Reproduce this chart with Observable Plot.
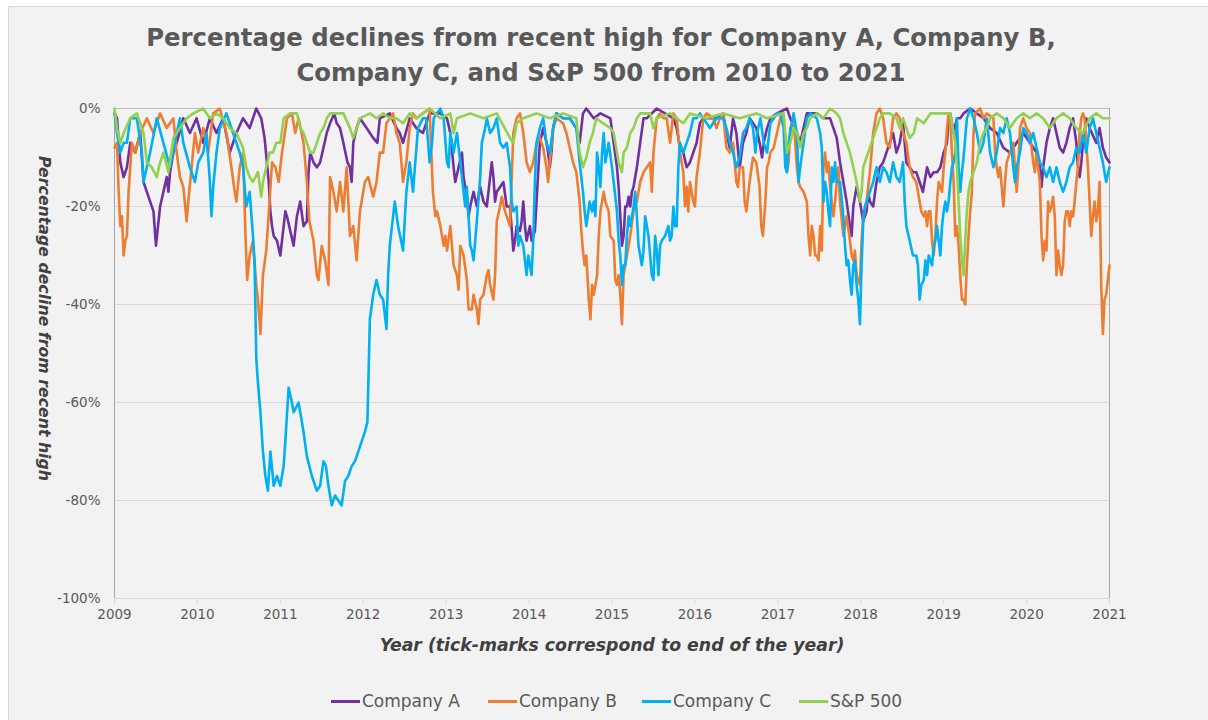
<!DOCTYPE html>
<html>
<head>
<meta charset="utf-8">
<script src="https://cdn.jsdelivr.net/npm/d3@7"></script>
<script src="https://cdn.jsdelivr.net/npm/@observablehq/plot@0.6"></script>
<style>
html,body{margin:0;padding:0;background:#ffffff;}
body{position:relative;width:1208px;height:720px;overflow:hidden;font-family:"DejaVu Sans",sans-serif;}
#panel{position:absolute;left:8px;top:6px;right:0;bottom:0;background:#f2f2f2;border-left:1px solid #d9d9d9;border-top:1px solid #d9d9d9;}
#title{position:absolute;left:0;top:20px;width:1202px;text-align:center;color:#595959;font-weight:bold;font-family:"DejaVu Sans",sans-serif;line-height:35px;white-space:nowrap;}
#chart{position:absolute;left:0;top:90px;}
.leg{position:absolute;top:691px;height:20px;display:flex;align-items:center;color:#595959;white-space:nowrap;font-family:"DejaVu Sans",sans-serif;}
.sw{display:inline-block;width:29px;height:3px;margin-right:2px;}
</style>
</head>
<body>
<div id="panel"></div>
<div id="title"></div>
<div id="chart"></div>
<div id="legend"></div>
<script>
// ---------- data ----------
const xTicks = [2009, 2010, 2011, 2012, 2013, 2014, 2015, 2016, 2017, 2018, 2019, 2020, 2021];
const yTicks = [0, -20, -40, -60, -80, -100];
const seriesNames = ["Company A", "Company B", "Company C", "S&P 500"];
const seriesColors = ["#7030a0", "#ed7d31", "#00b0f0", "#92d050"];
const titleLines = ["Percentage declines from recent high for Company A, Company B,", "Company C, and S&P 500 from 2010 to 2021"];
const xLabel = "Year (tick-marks correspond to end of the year)";
const yLabel = "Percentage decline from recent high";

// [year, % decline from recent high]
const companyA = [[2009.00,-1],[2009.03,-2],[2009.07,-11],[2009.11,-14],[2009.15,-12],[2009.19,-7],[2009.25,-9],[2009.31,-5],[2009.35,-15],[2009.39,-17],[2009.43,-19],[2009.47,-21],[2009.50,-28],[2009.55,-20],[2009.59,-17],[2009.63,-14],[2009.65,-17],[2009.67,-13],[2009.71,-9],[2009.75,-7],[2009.83,-2],[2009.91,-5],[2009.99,-2],[2010.07,-7],[2010.15,-2],[2010.23,-5],[2010.31,-2],[2010.39,-9],[2010.47,-5],[2010.55,-2],[2010.63,-4],[2010.71,0],[2010.77,-2],[2010.81,-6],[2010.86,-15],[2010.88,-21],[2010.90,-24],[2010.92,-26],[2010.96,-27],[2011.00,-30],[2011.04,-24],[2011.06,-21],[2011.08,-22],[2011.12,-25],[2011.16,-28],[2011.20,-22],[2011.24,-19],[2011.28,-24],[2011.32,-23],[2011.34,-13],[2011.36,-9],[2011.40,-11],[2011.44,-12],[2011.48,-11],[2011.52,-8],[2011.56,-5],[2011.60,-3],[2011.65,-1],[2011.68,-3],[2011.72,-4],[2011.76,-7],[2011.81,-11],[2011.84,-12],[2011.86,-15],[2011.88,-7],[2011.92,-4],[2011.96,-2],[2012.04,-4],[2012.08,-5],[2012.12,-6],[2012.17,-7],[2012.20,-2],[2012.32,-1],[2012.40,-4],[2012.44,-5],[2012.48,-7],[2012.56,-2],[2012.64,-4],[2012.72,-5],[2012.80,-1],[2012.93,-1],[2013.01,-2],[2013.05,-5],[2013.09,-12],[2013.11,-15],[2013.15,-12],[2013.19,-9],[2013.21,-14],[2013.25,-18],[2013.27,-22],[2013.29,-20],[2013.33,-17],[2013.37,-20],[2013.41,-16],[2013.45,-19],[2013.49,-20],[2013.53,-14],[2013.55,-11],[2013.57,-14],[2013.59,-19],[2013.61,-17],[2013.65,-16],[2013.69,-15],[2013.73,-20],[2013.77,-20],[2013.81,-29],[2013.83,-27],[2013.85,-24],[2013.89,-25],[2013.91,-23],[2013.93,-19],[2013.95,-24],[2013.97,-27],[2014.01,-24],[2014.03,-27],[2014.07,-25],[2014.09,-19],[2014.13,-7],[2014.17,-4],[2014.21,-7],[2014.23,-9],[2014.25,-12],[2014.27,-9],[2014.29,-4],[2014.33,-1],[2014.41,-2],[2014.49,-2],[2014.57,-4],[2014.61,-7],[2014.65,-1],[2014.69,0],[2014.78,-2],[2014.86,-1],[2014.98,-2],[2015.02,-7],[2015.06,-12],[2015.08,-16],[2015.10,-22],[2015.12,-28],[2015.14,-26],[2015.16,-20],[2015.18,-20],[2015.20,-18],[2015.22,-20],[2015.24,-17],[2015.26,-16],[2015.30,-12],[2015.34,-7],[2015.38,-2],[2015.42,-2],[2015.54,0],[2015.74,-2],[2015.78,-4],[2015.82,-8],[2015.86,-9],[2015.90,-12],[2015.94,-11],[2015.98,-9],[2016.02,-7],[2016.06,-3],[2016.10,-2],[2016.18,-2],[2016.26,-2],[2016.34,-1],[2016.38,-5],[2016.42,-8],[2016.46,-2],[2016.50,-5],[2016.54,-12],[2016.58,-7],[2016.62,-5],[2016.66,-2],[2016.74,-4],[2016.78,-7],[2016.81,-10],[2016.83,-7],[2016.87,-4],[2016.91,-2],[2016.99,-1],[2017.11,0],[2017.15,-2],[2017.23,-5],[2017.27,-7],[2017.31,-4],[2017.35,-1],[2017.47,-1],[2017.55,-2],[2017.63,-2],[2017.67,-4],[2017.71,-6],[2017.75,-11],[2017.79,-15],[2017.83,-19],[2017.87,-24],[2017.89,-26],[2017.91,-20],[2017.95,-16],[2017.99,-19],[2018.03,-23],[2018.07,-21],[2018.09,-17],[2018.11,-19],[2018.15,-20],[2018.19,-15],[2018.23,-12],[2018.27,-11],[2018.31,-9],[2018.35,-7],[2018.39,-5],[2018.43,-9],[2018.47,-7],[2018.51,-3],[2018.55,-11],[2018.59,-12],[2018.63,-13],[2018.67,-13],[2018.71,-15],[2018.75,-17],[2018.80,-12],[2018.84,-14],[2018.88,-13],[2018.92,-13],[2018.96,-12],[2019.00,-9],[2019.04,-7],[2019.06,-2],[2019.08,-1],[2019.12,-5],[2019.16,-2],[2019.20,-2],[2019.24,-1],[2019.32,0],[2019.40,-1],[2019.48,-2],[2019.56,-4],[2019.64,-5],[2019.72,-8],[2019.80,-9],[2019.88,-7],[2019.96,-5],[2020.04,-7],[2020.12,-9],[2020.16,-12],[2020.18,-16],[2020.20,-12],[2020.24,-7],[2020.28,-4],[2020.32,-2],[2020.36,-5],[2020.40,-8],[2020.44,-9],[2020.48,-7],[2020.52,-4],[2020.56,-2],[2020.60,-7],[2020.62,-12],[2020.64,-14],[2020.66,-11],[2020.68,-7],[2020.72,-2],[2020.76,-4],[2020.84,-7],[2020.88,-4],[2020.92,-8],[2020.96,-10],[2021.00,-11]];

const companyB = [[2009.00,-8],[2009.03,-7],[2009.05,-17],[2009.07,-24],[2009.09,-22],[2009.11,-30],[2009.13,-27],[2009.15,-26],[2009.17,-17],[2009.21,-7],[2009.25,-9],[2009.31,-5],[2009.39,-2],[2009.47,-5],[2009.55,-1],[2009.63,-4],[2009.71,-2],[2009.75,-9],[2009.79,-14],[2009.83,-16],[2009.87,-23],[2009.89,-19],[2009.93,-12],[2009.97,-5],[2010.01,-9],[2010.07,-4],[2010.13,-9],[2010.19,-1],[2010.27,0],[2010.35,-5],[2010.41,-12],[2010.45,-17],[2010.47,-19],[2010.51,-12],[2010.55,-9],[2010.58,-26],[2010.60,-35],[2010.63,-30],[2010.67,-27],[2010.71,-36],[2010.73,-39],[2010.76,-46],[2010.79,-34],[2010.83,-29],[2010.87,-19],[2010.90,-11],[2010.94,-12],[2010.98,-15],[2011.02,-9],[2011.08,-2],[2011.14,-1],[2011.18,-5],[2011.22,-2],[2011.28,-7],[2011.32,-15],[2011.35,-23],[2011.40,-27],[2011.44,-34],[2011.46,-35],[2011.50,-28],[2011.54,-31],[2011.58,-36],[2011.60,-14],[2011.64,-17],[2011.68,-21],[2011.72,-15],[2011.76,-21],[2011.80,-12],[2011.84,-26],[2011.88,-24],[2011.92,-31],[2011.96,-21],[2012.02,-15],[2012.06,-14],[2012.12,-18],[2012.16,-15],[2012.20,-9],[2012.24,-9],[2012.28,-3],[2012.32,-2],[2012.36,-1],[2012.40,-5],[2012.44,-7],[2012.48,-15],[2012.52,-11],[2012.56,-4],[2012.60,-1],[2012.64,-2],[2012.72,-1],[2012.80,0],[2012.84,-17],[2012.87,-22],[2012.89,-21],[2012.93,-24],[2012.97,-28],[2012.99,-26],[2013.01,-29],[2013.05,-24],[2013.09,-32],[2013.13,-34],[2013.15,-37],[2013.17,-28],[2013.21,-30],[2013.25,-35],[2013.27,-41],[2013.31,-41],[2013.33,-38],[2013.37,-41],[2013.39,-44],[2013.41,-39],[2013.45,-38],[2013.49,-34],[2013.51,-33],[2013.53,-36],[2013.57,-39],[2013.59,-34],[2013.61,-23],[2013.65,-20],[2013.67,-18],[2013.71,-21],[2013.75,-23],[2013.77,-24],[2013.81,-5],[2013.85,-2],[2013.89,-1],[2013.93,-5],[2013.97,-11],[2014.01,-13],[2014.05,-11],[2014.09,-7],[2014.13,-6],[2014.17,-8],[2014.21,-12],[2014.23,-15],[2014.25,-11],[2014.29,-4],[2014.33,-2],[2014.41,-3],[2014.45,-5],[2014.49,-8],[2014.53,-11],[2014.57,-13],[2014.61,-19],[2014.63,-25],[2014.65,-29],[2014.67,-32],[2014.69,-30],[2014.72,-39],[2014.74,-43],[2014.76,-36],[2014.78,-38],[2014.82,-34],[2014.84,-26],[2014.86,-21],[2014.90,-17],[2014.92,-19],[2014.96,-21],[2014.98,-26],[2015.02,-27],[2015.04,-35],[2015.06,-36],[2015.08,-34],[2015.10,-38],[2015.12,-44],[2015.14,-34],[2015.18,-30],[2015.22,-26],[2015.26,-21],[2015.30,-19],[2015.34,-15],[2015.38,-13],[2015.42,-12],[2015.46,-11],[2015.48,-17],[2015.50,-9],[2015.54,-2],[2015.58,-1],[2015.62,-2],[2015.66,-2],[2015.70,-7],[2015.74,-1],[2015.78,-2],[2015.82,-9],[2015.86,-13],[2015.88,-20],[2015.90,-16],[2015.92,-21],[2015.94,-15],[2015.98,-19],[2016.00,-20],[2016.02,-14],[2016.06,-9],[2016.10,-2],[2016.14,-1],[2016.22,-2],[2016.26,-4],[2016.30,-2],[2016.34,-1],[2016.38,-8],[2016.42,-9],[2016.46,-7],[2016.50,-15],[2016.52,-16],[2016.54,-12],[2016.58,-12],[2016.60,-19],[2016.62,-21],[2016.66,-15],[2016.70,-10],[2016.74,-11],[2016.78,-16],[2016.80,-24],[2016.82,-26],[2016.85,-19],[2016.87,-12],[2016.89,-11],[2016.91,-9],[2016.95,-8],[2016.99,-5],[2017.03,-2],[2017.07,-1],[2017.09,-8],[2017.11,-13],[2017.13,-11],[2017.15,-4],[2017.19,-2],[2017.23,-12],[2017.25,-15],[2017.27,-16],[2017.31,-17],[2017.35,-19],[2017.37,-26],[2017.39,-30],[2017.41,-24],[2017.43,-26],[2017.45,-30],[2017.47,-30],[2017.49,-31],[2017.51,-24],[2017.53,-29],[2017.55,-12],[2017.57,-9],[2017.59,-13],[2017.61,-11],[2017.63,-16],[2017.65,-19],[2017.67,-22],[2017.69,-19],[2017.71,-15],[2017.73,-12],[2017.75,-19],[2017.79,-26],[2017.83,-22],[2017.87,-27],[2017.89,-30],[2017.91,-31],[2017.93,-29],[2017.95,-34],[2017.97,-35],[2017.99,-36],[2018.01,-27],[2018.03,-22],[2018.07,-19],[2018.11,-13],[2018.15,-5],[2018.19,-1],[2018.23,0],[2018.27,-2],[2018.31,-7],[2018.35,-8],[2018.39,-2],[2018.43,-1],[2018.47,-2],[2018.51,-5],[2018.55,-7],[2018.59,-12],[2018.63,-14],[2018.67,-15],[2018.71,-19],[2018.73,-21],[2018.76,-22],[2018.78,-21],[2018.80,-24],[2018.82,-21],[2018.84,-21],[2018.86,-27],[2018.88,-30],[2018.90,-26],[2018.92,-19],[2018.94,-15],[2018.96,-16],[2018.98,-17],[2019.00,-12],[2019.02,-9],[2019.04,-4],[2019.06,-1],[2019.08,-2],[2019.10,-9],[2019.12,-15],[2019.14,-26],[2019.16,-24],[2019.18,-28],[2019.20,-34],[2019.22,-39],[2019.24,-39],[2019.26,-40],[2019.28,-32],[2019.30,-26],[2019.32,-21],[2019.34,-17],[2019.36,-5],[2019.38,-1],[2019.44,0],[2019.48,-2],[2019.52,-1],[2019.60,-2],[2019.62,-9],[2019.64,-12],[2019.66,-14],[2019.68,-12],[2019.70,-16],[2019.72,-20],[2019.74,-15],[2019.76,-11],[2019.80,-9],[2019.84,-7],[2019.86,-12],[2019.88,-17],[2019.90,-12],[2019.92,-4],[2019.96,-2],[2020.00,-4],[2020.04,-5],[2020.08,-11],[2020.10,-13],[2020.12,-9],[2020.16,-15],[2020.18,-26],[2020.20,-31],[2020.22,-27],[2020.24,-29],[2020.26,-19],[2020.28,-21],[2020.30,-20],[2020.32,-18],[2020.34,-22],[2020.36,-34],[2020.38,-29],[2020.40,-32],[2020.42,-34],[2020.44,-32],[2020.46,-23],[2020.48,-21],[2020.50,-21],[2020.52,-24],[2020.54,-21],[2020.56,-22],[2020.58,-19],[2020.60,-15],[2020.62,-12],[2020.64,-5],[2020.66,-2],[2020.68,-1],[2020.70,-2],[2020.72,-7],[2020.74,-12],[2020.76,-19],[2020.78,-26],[2020.80,-22],[2020.82,-19],[2020.84,-23],[2020.86,-21],[2020.88,-15],[2020.90,-36],[2020.92,-46],[2020.94,-39],[2020.96,-38],[2020.98,-35],[2021.00,-32]];

const companyC = [[2009.00,-1],[2009.03,-5],[2009.07,-9],[2009.11,-7],[2009.15,-7],[2009.19,-2],[2009.27,-2],[2009.33,-9],[2009.35,-15],[2009.39,-12],[2009.43,-9],[2009.51,-2],[2009.59,-7],[2009.67,-12],[2009.75,-5],[2009.79,-2],[2009.83,-7],[2009.91,-12],[2009.97,-15],[2010.01,-11],[2010.07,-9],[2010.11,-5],[2010.15,-15],[2010.17,-22],[2010.19,-16],[2010.23,-9],[2010.27,-4],[2010.35,-1],[2010.43,-5],[2010.51,-9],[2010.55,-12],[2010.59,-20],[2010.63,-17],[2010.67,-26],[2010.69,-32],[2010.71,-51],[2010.73,-56],[2010.76,-62],[2010.79,-70],[2010.82,-75],[2010.85,-78],[2010.88,-70],[2010.92,-77],[2010.96,-75],[2011.00,-77],[2011.04,-73],[2011.06,-68],[2011.10,-57],[2011.14,-60],[2011.16,-62],[2011.22,-60],[2011.26,-64],[2011.28,-66],[2011.32,-71],[2011.38,-75],[2011.44,-78],[2011.48,-77],[2011.52,-72],[2011.55,-73],[2011.58,-77],[2011.62,-81],[2011.66,-79],[2011.70,-80],[2011.74,-81],[2011.78,-76],[2011.82,-75],[2011.86,-73],[2011.90,-72],[2011.96,-69],[2012.02,-66],[2012.05,-64],[2012.08,-43],[2012.12,-38],[2012.16,-35],[2012.20,-38],[2012.24,-39],[2012.28,-45],[2012.30,-34],[2012.32,-28],[2012.36,-22],[2012.38,-19],[2012.42,-24],[2012.48,-29],[2012.52,-17],[2012.56,-11],[2012.60,-17],[2012.66,-4],[2012.72,-2],[2012.76,-2],[2012.80,-11],[2012.83,-7],[2012.85,-2],[2012.89,-1],[2012.93,0],[2012.97,-2],[2013.01,-11],[2013.03,-12],[2013.05,-5],[2013.09,-9],[2013.13,-5],[2013.17,-11],[2013.21,-17],[2013.23,-20],[2013.25,-16],[2013.27,-22],[2013.29,-28],[2013.31,-29],[2013.33,-31],[2013.35,-27],[2013.37,-23],[2013.41,-14],[2013.43,-7],[2013.47,-4],[2013.49,-2],[2013.53,-5],[2013.57,-4],[2013.61,-2],[2013.65,-7],[2013.69,-8],[2013.73,-7],[2013.77,-12],[2013.79,-19],[2013.81,-21],[2013.85,-20],[2013.87,-28],[2013.89,-26],[2013.93,-28],[2013.97,-34],[2013.99,-30],[2014.01,-32],[2014.03,-34],[2014.05,-27],[2014.07,-15],[2014.09,-7],[2014.13,-4],[2014.17,-2],[2014.21,-7],[2014.25,-9],[2014.29,-4],[2014.33,-1],[2014.41,-2],[2014.49,-2],[2014.57,-4],[2014.61,-11],[2014.65,-17],[2014.67,-21],[2014.69,-24],[2014.73,-19],[2014.76,-21],[2014.78,-19],[2014.80,-22],[2014.82,-9],[2014.84,-12],[2014.86,-16],[2014.88,-9],[2014.90,-5],[2014.92,-11],[2014.96,-7],[2015.00,-12],[2015.02,-15],[2015.06,-21],[2015.08,-27],[2015.10,-30],[2015.12,-36],[2015.14,-32],[2015.16,-32],[2015.18,-26],[2015.20,-22],[2015.22,-24],[2015.26,-20],[2015.28,-17],[2015.30,-22],[2015.32,-28],[2015.34,-30],[2015.36,-32],[2015.38,-29],[2015.40,-22],[2015.42,-24],[2015.44,-26],[2015.46,-30],[2015.48,-34],[2015.50,-35],[2015.52,-26],[2015.54,-29],[2015.56,-34],[2015.58,-28],[2015.60,-27],[2015.64,-26],[2015.68,-24],[2015.70,-27],[2015.72,-26],[2015.74,-20],[2015.76,-24],[2015.78,-24],[2015.80,-12],[2015.82,-7],[2015.86,-9],[2015.90,-7],[2015.94,-5],[2015.98,-2],[2016.02,-2],[2016.06,-1],[2016.10,-2],[2016.18,-4],[2016.26,-2],[2016.34,-2],[2016.38,-4],[2016.42,-7],[2016.46,-9],[2016.50,-12],[2016.54,-10],[2016.58,-5],[2016.62,-4],[2016.66,-2],[2016.70,-4],[2016.73,-9],[2016.75,-5],[2016.79,-2],[2016.83,-7],[2016.87,-9],[2016.91,-3],[2016.99,-1],[2017.03,-1],[2017.07,-4],[2017.09,-12],[2017.11,-13],[2017.13,-7],[2017.19,-1],[2017.23,-5],[2017.25,-15],[2017.27,-12],[2017.31,-7],[2017.35,-2],[2017.39,-1],[2017.47,-2],[2017.51,-5],[2017.53,-8],[2017.55,-19],[2017.57,-15],[2017.59,-17],[2017.61,-21],[2017.63,-24],[2017.65,-12],[2017.67,-15],[2017.69,-11],[2017.71,-15],[2017.75,-15],[2017.79,-22],[2017.81,-28],[2017.83,-32],[2017.85,-31],[2017.87,-35],[2017.89,-38],[2017.91,-32],[2017.93,-31],[2017.95,-36],[2017.97,-39],[2017.99,-44],[2018.01,-32],[2018.03,-23],[2018.05,-20],[2018.07,-19],[2018.11,-17],[2018.15,-15],[2018.19,-12],[2018.23,-15],[2018.27,-12],[2018.31,-13],[2018.35,-15],[2018.39,-11],[2018.43,-14],[2018.47,-15],[2018.51,-11],[2018.53,-19],[2018.55,-24],[2018.59,-27],[2018.63,-30],[2018.67,-30],[2018.69,-32],[2018.71,-39],[2018.73,-36],[2018.76,-35],[2018.78,-31],[2018.80,-34],[2018.82,-30],[2018.84,-31],[2018.86,-32],[2018.88,-28],[2018.90,-27],[2018.92,-24],[2018.94,-27],[2018.96,-30],[2018.98,-24],[2019.00,-21],[2019.02,-19],[2019.04,-21],[2019.06,-19],[2019.08,-15],[2019.10,-12],[2019.12,-11],[2019.14,-9],[2019.16,-2],[2019.18,-12],[2019.20,-17],[2019.22,-13],[2019.24,-10],[2019.28,-2],[2019.32,0],[2019.36,-2],[2019.40,-5],[2019.44,-9],[2019.48,-7],[2019.52,-2],[2019.56,-9],[2019.60,-12],[2019.64,-9],[2019.68,-4],[2019.72,-5],[2019.76,-2],[2019.80,-5],[2019.84,-12],[2019.86,-15],[2019.88,-12],[2019.92,-9],[2019.96,-4],[2020.00,-5],[2020.04,-7],[2020.08,-5],[2020.12,-8],[2020.16,-11],[2020.20,-12],[2020.24,-14],[2020.28,-12],[2020.32,-15],[2020.36,-12],[2020.40,-15],[2020.44,-17],[2020.48,-15],[2020.52,-12],[2020.56,-11],[2020.60,-8],[2020.64,-9],[2020.68,-5],[2020.72,-9],[2020.76,-4],[2020.80,-2],[2020.84,-5],[2020.88,-8],[2020.92,-11],[2020.96,-15],[2021.00,-12]];

const sp500 = [[2009.00,0],[2009.03,-4],[2009.07,-7],[2009.11,-5],[2009.19,-2],[2009.27,-1],[2009.35,-5],[2009.39,-11],[2009.45,-12],[2009.51,-14],[2009.55,-11],[2009.59,-9],[2009.65,-13],[2009.71,-6],[2009.79,-4],[2009.87,-2],[2009.95,-1],[2010.07,0],[2010.15,-2],[2010.23,-1],[2010.31,-2],[2010.39,-4],[2010.47,-5],[2010.55,-8],[2010.59,-12],[2010.63,-14],[2010.67,-15],[2010.73,-13],[2010.77,-18],[2010.79,-15],[2010.83,-12],[2010.87,-9],[2010.91,-9],[2010.95,-7],[2011.00,-7],[2011.04,-2],[2011.12,-1],[2011.20,-1],[2011.24,-4],[2011.28,-5],[2011.32,-7],[2011.36,-9],[2011.40,-9],[2011.44,-7],[2011.48,-5],[2011.52,-4],[2011.56,-2],[2011.60,-1],[2011.76,-1],[2011.84,-4],[2011.88,-6],[2011.92,-4],[2011.96,-2],[2012.08,-1],[2012.16,-2],[2012.24,-1],[2012.32,-2],[2012.40,-2],[2012.48,-3],[2012.56,-1],[2012.64,-2],[2012.80,0],[2012.93,-2],[2013.05,-1],[2013.09,-5],[2013.13,-2],[2013.29,-1],[2013.45,-2],[2013.61,-1],[2013.77,-6],[2013.81,-7],[2013.85,-3],[2013.93,-2],[2014.09,-1],[2014.25,-2],[2014.41,-1],[2014.57,-2],[2014.61,-9],[2014.65,-12],[2014.69,-10],[2014.73,-7],[2014.77,-5],[2014.81,-2],[2014.89,-3],[2014.98,-4],[2015.02,-5],[2015.06,-9],[2015.08,-11],[2015.10,-12],[2015.12,-13],[2015.14,-9],[2015.18,-8],[2015.22,-5],[2015.26,-4],[2015.30,-2],[2015.34,-1],[2015.46,-1],[2015.50,-4],[2015.54,-2],[2015.70,-1],[2015.86,-3],[2015.94,-1],[2016.14,-2],[2016.34,-1],[2016.54,-2],[2016.74,-1],[2016.87,-2],[2017.07,-1],[2017.11,-9],[2017.15,-7],[2017.19,-4],[2017.23,-5],[2017.27,-8],[2017.31,-5],[2017.35,-4],[2017.39,-2],[2017.47,-1],[2017.55,-2],[2017.63,0],[2017.71,-1],[2017.75,-2],[2017.79,-5],[2017.83,-7],[2017.87,-9],[2017.91,-12],[2017.95,-15],[2017.99,-19],[2018.01,-17],[2018.03,-12],[2018.07,-10],[2018.11,-8],[2018.15,-6],[2018.19,-4],[2018.23,-2],[2018.27,-1],[2018.35,-1],[2018.43,-2],[2018.47,-4],[2018.51,-2],[2018.55,-4],[2018.59,-6],[2018.64,-5],[2018.68,-2],[2018.76,-3],[2018.84,-1],[2019.00,-1],[2019.08,-1],[2019.12,-5],[2019.14,-7],[2019.16,-12],[2019.18,-19],[2019.20,-26],[2019.22,-31],[2019.24,-34],[2019.26,-27],[2019.28,-21],[2019.30,-17],[2019.32,-15],[2019.36,-13],[2019.40,-11],[2019.44,-7],[2019.48,-5],[2019.52,-4],[2019.56,-2],[2019.64,-1],[2019.72,-2],[2019.80,-4],[2019.88,-2],[2019.96,-1],[2020.04,-2],[2020.12,-1],[2020.20,-2],[2020.28,-4],[2020.36,-2],[2020.44,-1],[2020.52,-2],[2020.60,-4],[2020.68,-5],[2020.76,-2],[2020.84,-1],[2020.92,-2],[2021.00,-2]];

const seriesData = [companyA, companyB, companyC, sp500];

// ---------- helpers ----------
const ctx = document.createElement("canvas").getContext("2d");
function fitSize(text, weight, style, family, target) {
  ctx.font = `${style} ${weight} 100px ${family}`;
  return 100 * target / ctx.measureText(text).width;
}
const FAM = '"DejaVu Sans"';

// ---------- title ----------
const titleSize = fitSize(titleLines[0], "bold", "normal", FAM, 910);
const titleEl = document.getElementById("title");
titleEl.style.fontSize = titleSize + "px";
titleLines.forEach(t => { const d = document.createElement("div"); d.textContent = t; titleEl.appendChild(d); });

// ---------- chart ----------
const xLabelSize = fitSize(xLabel, "bold", "italic", FAM, 465);
const yLabelSize = fitSize(yLabel, "bold", "italic", FAM, 325);

const plot = Plot.plot({
  width: 1208,
  height: 580,
  marginLeft: 114,
  marginRight: 99,
  marginTop: 18,
  marginBottom: 72,
  x: {domain: [2009, 2021], axis: null},
  y: {domain: [-100, 0], axis: null},
  style: {background: "transparent", fontFamily: "DejaVu Sans, sans-serif", fontSize: "13.5px", color: "#595959", overflow: "visible"},
  marks: [
    Plot.gridY(yTicks.filter(d => d !== 0), {stroke: "#d9d9d9", strokeOpacity: 1}),
    Plot.ruleY([0], {stroke: "#bfbfbf"}),
    Plot.ruleX([xTicks[0], xTicks[xTicks.length - 1]], {stroke: "#a6a6a6"}),
    Plot.axisX({ticks: xTicks, tickFormat: d => String(d), tickSize: 6, tickPadding: 5, stroke: "#d9d9d9", fill: "#595959", label: null}),
    Plot.axisY({ticks: yTicks, tickFormat: d => `${d}%`, tickSize: 0, tickPadding: 14, fill: "#595959", label: null}),
    ...seriesData.map((s, i) => Plot.line(s, {x: d => d[0], y: d => d[1], stroke: seriesColors[i], strokeWidth: 2.6, strokeLinejoin: "round", strokeLinecap: "round"})),
    Plot.text([xLabel], {frameAnchor: "bottom", text: d => d, dy: 47, textAnchor: "middle", lineAnchor: "middle", fontSize: xLabelSize, fontWeight: "bold", fontStyle: "italic", fill: "#404040"}),
    Plot.text([yLabel], {frameAnchor: "left", text: d => d, dx: -70, dy: -35, rotate: 90, textAnchor: "middle", lineAnchor: "middle", fontSize: yLabelSize, fontWeight: "bold", fontStyle: "italic", fill: "#404040"})
  ]
});
document.getElementById("chart").appendChild(plot);

// ---------- legend ----------
const legendLeft = [331, 488, 642, 799];
const legendSize = Math.min(17, fitSize(seriesNames[0], "normal", "normal", FAM, 103));
const legendEl = document.getElementById("legend");
seriesNames.forEach((name, i) => {
  const item = document.createElement("div");
  item.className = "leg";
  item.style.left = legendLeft[i] + "px";
  item.style.fontSize = legendSize + "px";
  const sw = document.createElement("span");
  sw.className = "sw";
  sw.style.background = seriesColors[i];
  const tx = document.createElement("span");
  tx.textContent = name;
  item.appendChild(sw);
  item.appendChild(tx);
  legendEl.appendChild(item);
});
</script>
</body>
</html>
